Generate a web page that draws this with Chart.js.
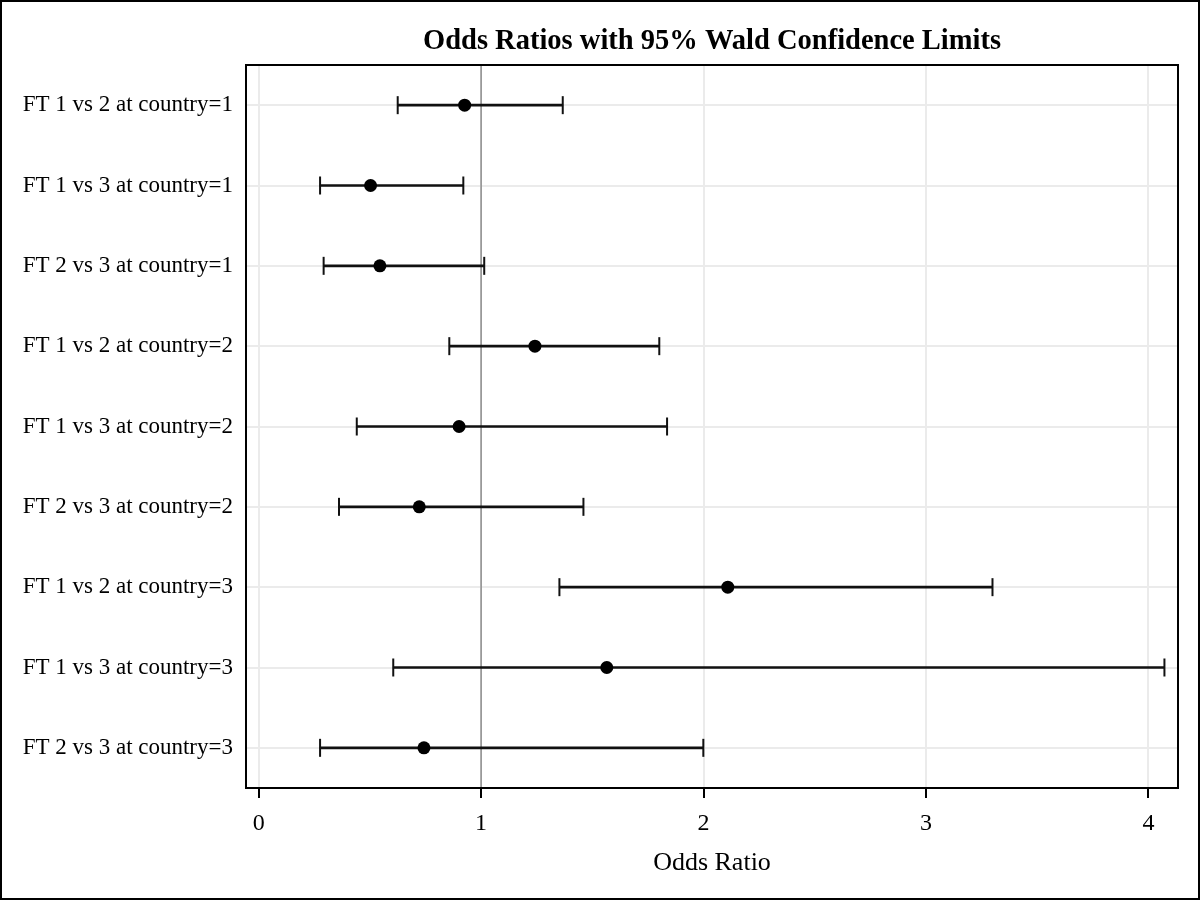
<!DOCTYPE html>
<html>
<head>
<meta charset="utf-8">
<script src="https://cdn.jsdelivr.net/npm/chart.js"></script>
<style>
  body { margin: 0; background: #fff; }
  #wrap { position: relative; width: 1200px; height: 900px; }
</style>
</head>
<body>
<div id="wrap"><canvas id="orplot" width="1200" height="900"></canvas></div>
<script>
// odds ratio estimates and 95% Wald limits
const comparisons = [
  'FT 1 vs 2 at country=1', 'FT 1 vs 3 at country=1', 'FT 2 vs 3 at country=1',
  'FT 1 vs 2 at country=2', 'FT 1 vs 3 at country=2', 'FT 2 vs 3 at country=2',
  'FT 1 vs 2 at country=3', 'FT 1 vs 3 at country=3', 'FT 2 vs 3 at country=3'
];
const oddsRatio = [0.926, 0.503, 0.545, 1.242, 0.901, 0.722, 2.109, 1.565, 0.743];
const lowerCL   = [0.625, 0.276, 0.292, 0.857, 0.441, 0.361, 1.352, 0.605, 0.276];
const upperCL   = [1.367, 0.920, 1.014, 1.801, 1.836, 1.460, 3.299, 4.072, 1.999];
const xTicks    = [0, 1, 2, 3, 4];

const serif = '"Liberation Serif", "Times New Roman", serif';

// caps, reference line, frame and title
const extras = {
  id: 'extras',
  beforeDatasetsDraw(chart) {
    const {ctx, chartArea: a, scales: {x}} = chart;
    const px = x.getPixelForValue(1);
    ctx.save();
    ctx.strokeStyle = '#8c8c8c';
    ctx.lineWidth = 1.5;
    ctx.beginPath(); ctx.moveTo(px, a.top); ctx.lineTo(px, a.bottom); ctx.stroke();
    ctx.restore();
  },
  afterDatasetsDraw(chart) {
    const {ctx, scales: {x, y}} = chart;
    ctx.save();
    ctx.strokeStyle = '#111';
    ctx.lineWidth = 2;
    comparisons.forEach((c, i) => {
      const py = y.getPixelForValue(i);
      [lowerCL[i], upperCL[i]].forEach(v => {
        const px = x.getPixelForValue(v);
        ctx.beginPath(); ctx.moveTo(px, py - 9); ctx.lineTo(px, py + 9); ctx.stroke();
      });
    });
    ctx.restore();
  },
  afterDraw(chart) {
    const {ctx, chartArea: a} = chart;
    ctx.save();
    ctx.strokeStyle = '#000';
    ctx.lineWidth = 2;
    ctx.strokeRect(a.left, a.top, a.right - a.left, a.bottom - a.top);
    ctx.strokeRect(1, 1, chart.width - 2, chart.height - 2);
    ctx.fillStyle = '#000';
    ctx.font = 'bold 28.5px ' + serif;
    ctx.textAlign = 'center';
    ctx.textBaseline = 'middle';
    ctx.fillText('Odds Ratios with 95% Wald Confidence Limits', (a.left + a.right) / 2, 42);
    ctx.restore();
  }
};

new Chart(document.getElementById('orplot'), {
  type: 'bar',
  data: {
    labels: comparisons,
    datasets: [
      {type: 'scatter', label: 'Odds Ratio', order: 0,
       data: comparisons.map((c, i) => ({x: oddsRatio[i], y: c})),
       pointRadius: 6.5, pointBackgroundColor: '#000', pointBorderColor: '#000', pointBorderWidth: 0},
      {type: 'bar', label: 'CL', order: 1,
       data: comparisons.map((c, i) => [lowerCL[i], upperCL[i]]),
       backgroundColor: '#111', barThickness: 2, borderSkipped: false}
    ]
  },
  options: {
    indexAxis: 'y',
    responsive: false,
    animation: false,
    layout: { padding: { top: 65, right: 22, left: 0, bottom: 0 } },
    plugins: { legend: { display: false }, tooltip: { enabled: false } },
    scales: {
      x: {
        type: 'linear', position: 'bottom', min: -0.057, max: 4.133,
        afterBuildTicks: s => { s.ticks = xTicks.map(v => ({value: v})); },
        afterFit: s => { s.height = 112; },
        border: { display: false },
        grid: { color: '#ebebeb', lineWidth: 2, tickColor: '#000', tickWidth: 2, tickLength: 10 },
        ticks: { color: '#000', font: { family: serif, size: 24 }, padding: 11, maxRotation: 0 },
        title: { display: true, text: 'Odds Ratio', color: '#000',
                 font: { family: serif, size: 26 }, padding: { top: 0, bottom: 21 } }
      },
      y: {
        type: 'category', offset: true,
        afterFit: s => { s.width = 246; },
        border: { display: false },
        grid: { color: '#ebebeb', lineWidth: 2, offset: false, drawTicks: false },
        ticks: { color: '#000', font: { family: serif, size: 23 }, padding: 13 }
      }
    }
  },
  plugins: [extras]
});
</script>
</body>
</html>
